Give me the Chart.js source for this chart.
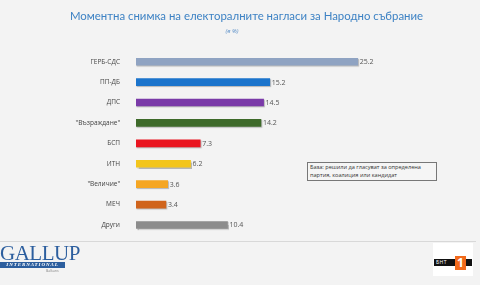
<!DOCTYPE html>
<html><head><meta charset="utf-8">
<script src="https://cdn.jsdelivr.net/npm/chart.js@4/dist/chart.umd.min.js"></script>
<style>
html,body{margin:0;padding:0;background:#f3f3f3;width:480px;height:285px;overflow:hidden;font-family:"Open Sans",Lato,sans-serif;}
#wrap{position:absolute;left:0;top:0;width:480px;height:285px;}
#title{position:absolute;left:0;width:493px;top:9px;text-align:center;color:#3d82c4;font-size:11.4px;font-family:Lato,sans-serif;}
#sub{position:absolute;left:0;width:464px;top:27px;text-align:center;color:#5a8fc8;font-size:6px;font-style:italic;}
#note{position:absolute;left:307px;top:162px;width:130px;height:19px;border:1px solid #777;font-size:5.6px;line-height:7.5px;color:#333;padding:1px 2px;box-sizing:border-box;background:#f5f5f5;}
#hr{position:absolute;left:0;top:241px;width:476px;height:1px;background:#d8d8d8;}
#gal{position:absolute;left:0;top:244px;width:66px;height:30px;}
#galtxt{position:absolute;left:0;top:-3px;font-family:"Liberation Serif",serif;font-size:21px;color:#2c5e9e;letter-spacing:-0.5px;}
#galband{position:absolute;left:0;top:18px;width:65px;height:6px;background:#2c5e9e;color:#fff;font-family:"Liberation Serif",serif;font-style:italic;font-weight:bold;font-size:5px;line-height:6px;letter-spacing:0.9px;text-align:center;}
#galb{position:absolute;left:46px;top:24px;font-size:3.5px;color:#888;}
#bnt{position:absolute;left:433px;top:243px;width:40px;height:33px;background:#fff;}
#bntblk{position:absolute;left:1px;top:16px;width:38px;height:7px;background:#111;color:#fff;font-size:5px;line-height:7px;letter-spacing:0.5px;padding-left:2px;box-sizing:border-box;}
#bnt1{position:absolute;left:22px;top:13px;width:11px;height:14px;background:#f26a1b;color:#fff;font-weight:bold;font-size:12px;line-height:14px;text-align:center;}
canvas{position:absolute;left:0;top:0;}
</style></head>
<body><div id="wrap">
<canvas id="c" width="480" height="285"></canvas>
<div id="title">Моментна снимка на електоралните нагласи за Народно събрание</div>
<div id="sub">(в %)</div>
<div id="note">База: решили да гласуват за определена партия, коалиция или кандидат</div>
<div id="hr"></div>
<div id="gal"><div id="galtxt">GALLUP</div><div id="galband">INTERNATIONAL</div><div id="galb">Balkans</div></div>
<div id="bnt"><div id="bntblk">БНТ</div><div id="bnt1">1</div></div>
</div>
<script>
const categories = ["ГЕРБ-СДС","ПП-ДБ","ДПС","\"Възраждане\"","БСП","ИТН","\"Величие\"","МЕЧ","Други"];
const values = [25.2,15.2,14.5,14.2,7.3,6.2,3.6,3.4,10.4];
const valueLabels = ["25.2","15.2","14.5","14.2","7.3","6.2","3.6","3.4","10.4"];
const barColors = ["#8fa3c2","#1b74cc","#7a3aa8","#3e6a2a","#ea1520","#f3c51c","#f5a623","#d0641c","#8c8c8c"];

const labelPlugin = {
  id:'vals',
  afterDatasetsDraw(chart){
    const ctx = chart.ctx;
    const meta = chart.getDatasetMeta(0);
    ctx.save();
    ctx.font = '7px "Open Sans", sans-serif';
    ctx.fillStyle = '#555';
    ctx.textBaseline = 'middle';
    meta.data.forEach((bar,i)=>{
      ctx.fillText(valueLabels[i], bar.x + 2, bar.y + 0.5);
    });
    ctx.restore();
  }
};
const shadowPlugin = {
  id:'shadow',
  beforeDatasetsDraw(chart){ const c=chart.ctx; c.save(); c.shadowColor='rgba(0,0,0,0.25)'; c.shadowOffsetX=1; c.shadowOffsetY=1; c.shadowBlur=1; },
  afterDatasetsDraw(chart){ chart.ctx.restore(); }
};

new Chart(document.getElementById('c'), {
  type:'bar',
  data:{ labels:categories, datasets:[{ data:values, backgroundColor:barColors, barThickness:7, borderWidth:0 }]},
  options:{
    indexAxis:'y',
    responsive:false, animation:false,
    layout:{ padding:{ left:0, right:80, top:51.5, bottom:49.8 } },
    plugins:{ legend:{display:false}, tooltip:{enabled:false} },
    scales:{
      x:{ display:false, min:0, max:30 },
      y:{
        grid:{display:false, drawBorder:false}, border:{display:false},
        ticks:{ color:'#444', font:{ size:6.5, family:'"Open Sans", sans-serif' }, padding:8 },
        afterFit(s){ s.width = 136; }
      }
    }
  },
  plugins:[shadowPlugin,labelPlugin]
});
</script>
</body></html>
